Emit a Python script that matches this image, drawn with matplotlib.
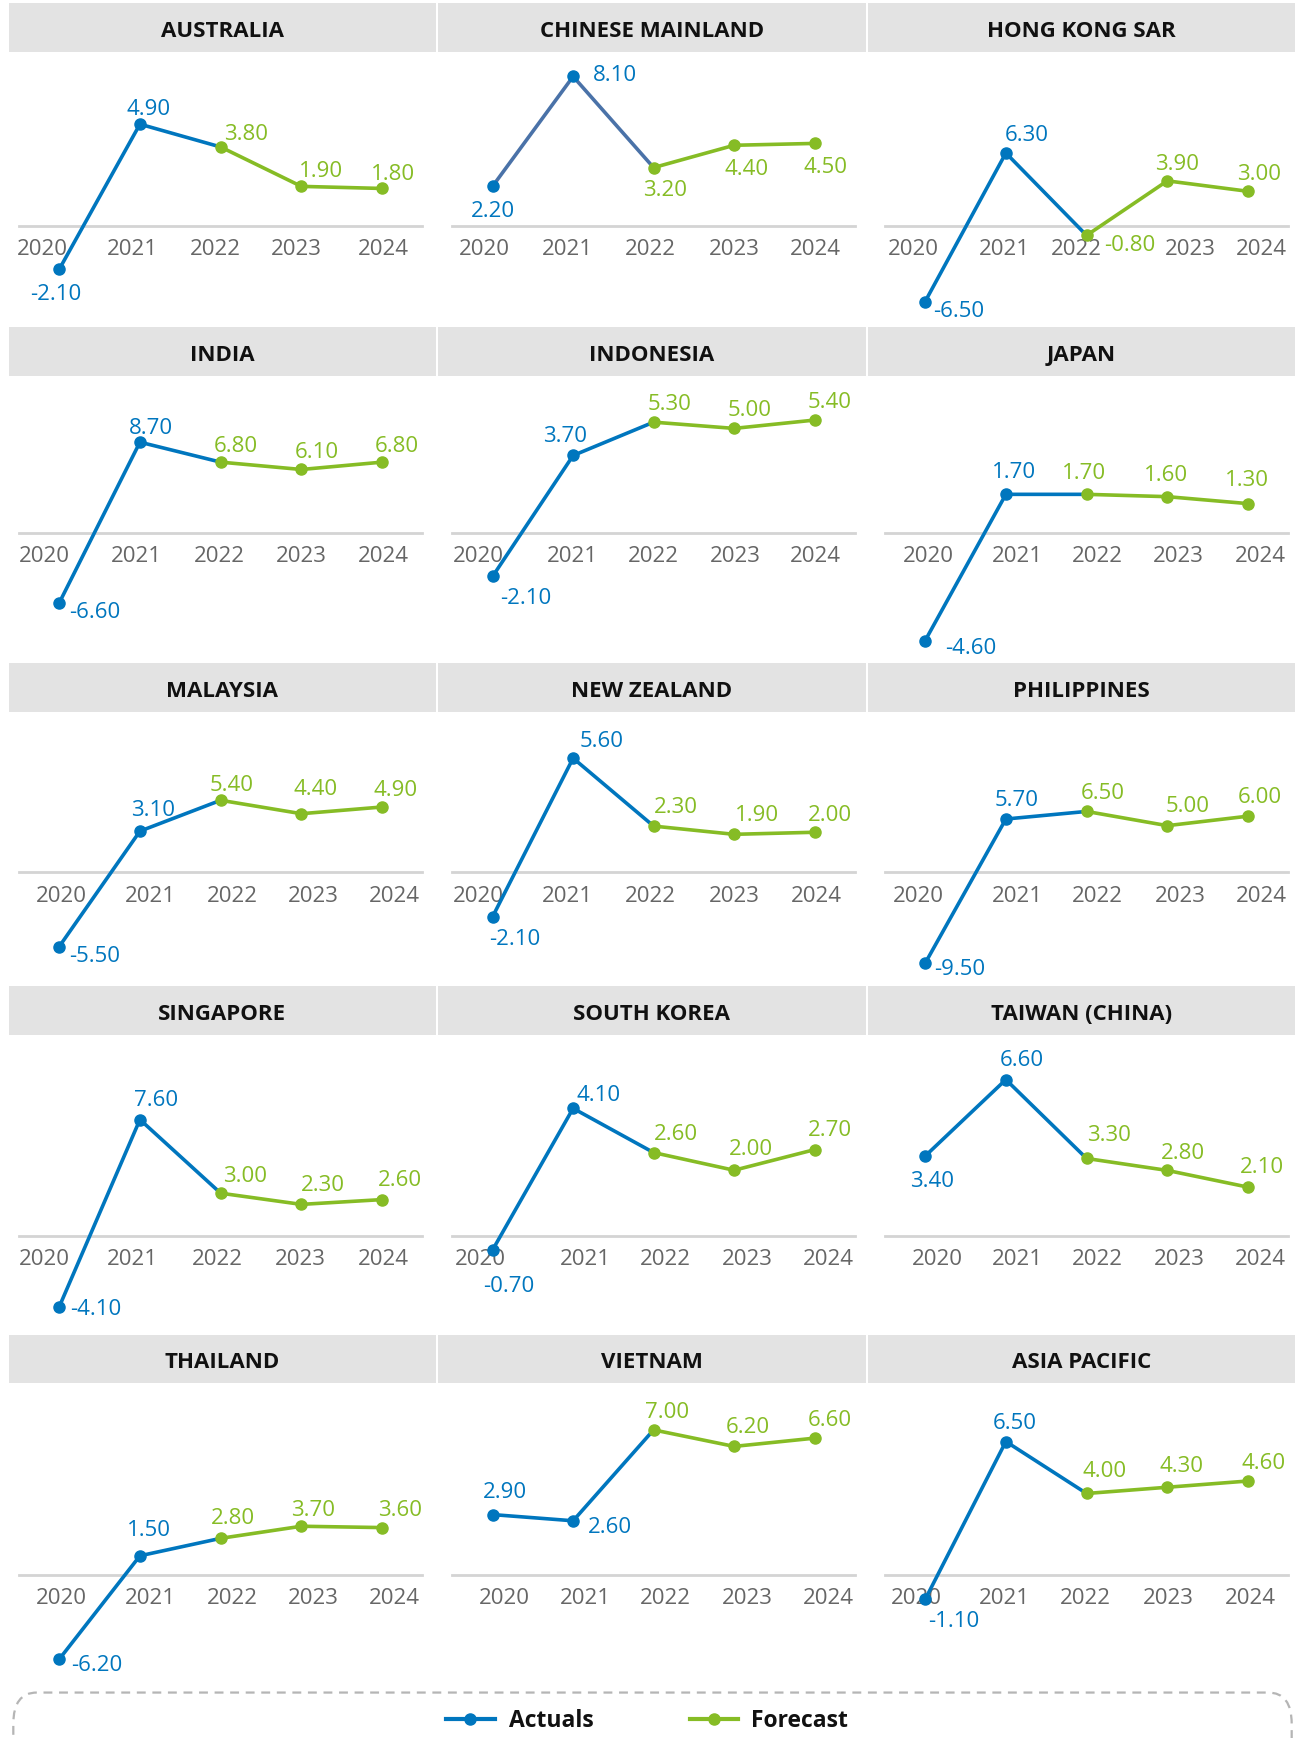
import matplotlib
matplotlib.use('Agg')
import matplotlib.pyplot as plt
from matplotlib.patches import Rectangle, FancyBboxPatch
from matplotlib.lines import Line2D
from matplotlib.transforms import ScaledTranslation

plt.rcParams['font.family'] = ['Open Sans', 'DejaVu Sans']

# data
years = ['2020', '2021', '2022', '2023', '2024']
countries = ['AUSTRALIA', 'CHINESE MAINLAND', 'HONG KONG SAR',
             'INDIA', 'INDONESIA', 'JAPAN',
             'MALAYSIA', 'NEW ZEALAND', 'PHILIPPINES',
             'SINGAPORE', 'SOUTH KOREA', 'TAIWAN (CHINA)',
             'THAILAND', 'VIETNAM', 'ASIA PACIFIC']
australia = [-2.1, 4.9, 3.8, 1.9, 1.8]
china = [2.2, 8.1, 3.2, 4.4, 4.5]
hongkong = [-6.5, 6.3, -0.8, 3.9, 3.0]
india = [-6.6, 8.7, 6.8, 6.1, 6.8]
indonesia = [-2.1, 3.7, 5.3, 5.0, 5.4]
japan = [-4.6, 1.7, 1.7, 1.6, 1.3]
malaysia = [-5.5, 3.1, 5.4, 4.4, 4.9]
newzealand = [-2.1, 5.6, 2.3, 1.9, 2.0]
philippines = [-9.5, 5.7, 6.5, 5.0, 6.0]
singapore = [-4.1, 7.6, 3.0, 2.3, 2.6]
southkorea = [-0.7, 4.1, 2.6, 2.0, 2.7]
taiwan = [3.4, 6.6, 3.3, 2.8, 2.1]
thailand = [-6.2, 1.5, 2.8, 3.7, 3.6]
vietnam = [2.9, 2.6, 7.0, 6.2, 6.6]
asiapacific = [-1.1, 6.5, 4.0, 4.3, 4.6]
series = [australia, china, hongkong, india, indonesia, japan, malaysia,
          newzealand, philippines, singapore, southkorea, taiwan,
          thailand, vietnam, asiapacific]
n_actual = 2  # 2020, 2021 are actuals

# layout (pixels on a 1177x1568 grid)
W, H = 1177.0, 1568.0
col_hdr = [(8, 393), (395, 781), (783, 1168)]
col_axis = [(17, 381), (408, 771), (798, 1162)]
row_hdr = [3, 295, 598, 890, 1204]
hdr_h = 44
row_bottom = [293, 596, 888, 1202, 1520]
row_base = [204, 481, 787, 1115, 1421]
# pixel of value zero and pixels per unit, per panel
zero_px = [203.7, 204.9, 204.0, 481.4, 480.5, 481.6, 787.4, 788.0, 787.7,
           1119.8, 1109.0, 1116.3, 1421.8, 1420.5, 1422.4]
px_unit = [18.71, 16.78, 10.47, 9.48, 18.8, 20.95, 12.11, 18.57, 8.56,
           14.44, 26.6, 21.56, 12.12, 18.64, 18.75]
# label offsets (pixels) from each marker
lab_off = [
    [(-3, 20), (8, -16), (23, -14), (18, -16), (10, -16)],
    [(0, 20), (38, -4), (10, 18), (11, 19), (10, 19)],
    [(30, 6), (19, -19), (39, 6), (9, -18), (10, -18)],
    [(32, 6), (10, -15), (14, -17), (14, -18), (13, -17)],
    [(30, 17), (-7, -20), (14, -19), (14, -19), (14, -19)],
    [(41, 4), (7, -23), (-2, -22), (-1, -22), (-1, -24)],
    [(32, 6), (12, -22), (10, -16), (13, -25), (12, -18)],
    [(20, 18), (26, -18), (20, -20), (21, -20), (14, -18)],
    [(31, 3), (10, -20), (15, -19), (18, -20), (11, -20)],
    [(33, -1), (15, -20), (22, -18), (19, -20), (16, -20)],
    [(15, 30), (23, -15), (20, -19), (15, -22), (14, -20)],
    [(6, 20), (14, -20), (20, -24), (14, -18), (13, -21)],
    [(34, 3), (8, -26), (11, -21), (11, -17), (16, -18)],
    [(11, -23), (33, 3), (12, -19), (12, -20), (14, -19)],
    [(26, 17), (8, -19), (16, -23), (13, -22), (14, -19)],
]
# horizontal shift (pixels) of each year label
tick_off = [
    [-15, -7, -5, -5, 1], [-7, -5, -3, 0, 1], [-11, -1, -9, 21, 12],
    [-13, -3, -1, 0, 1], [-13, -1, 0, 1, 1], [3, 10, 10, 10, 11],
    [2, 9, 11, 11, 11], [-13, -5, -3, 0, 2], [-6, 10, 10, 12, 12],
    [-13, -7, -3, -1, 1], [-11, 11, 11, 12, 12], [11, 10, 10, 11, 11],
    [2, 9, 11, 11, 11], [11, 11, 11, 12, 12], [-8, -1, -1, 1, 2],
]

blue = '#0076BE'
green = '#86BC25'
china_line = '#4A72A8'
grey_txt = '#666666'
px2pt = 1305 / W * 0.72
text_dy = 3  # open sans box sits a little high

fig = plt.figure(figsize=(13.05, 17.38), dpi=100)

for k, (name, vals) in enumerate(zip(countries, series)):
    r, c = divmod(k, 3)
    # header band
    x0, x1 = col_hdr[c]
    fig.add_artist(Rectangle((x0 / W, 1 - (row_hdr[r] + hdr_h) / H),
                             (x1 - x0) / W, hdr_h / H,
                             transform=fig.transFigure, color='#E3E3E3', lw=0))
    fig.text((x0 + x1) / 2 / W, 1 - (row_hdr[r] + hdr_h / 2 + 3.5) / H, name,
             ha='center', va='center', fontsize=16, fontweight='bold', color='#111111')

    top = row_hdr[r] + hdr_h
    bot = row_bottom[r]
    a0, a1 = col_axis[c]
    ax = fig.add_axes([a0 / W, 1 - bot / H, (a1 - a0) / W, (bot - top) / H])
    ax.set_xlim(-0.5, 4.5)
    ax.set_ylim(-(bot - zero_px[k]) / px_unit[k], (zero_px[k] - top) / px_unit[k])
    ax.patch.set_visible(False)
    for s in ['top', 'left', 'right']:
        ax.spines[s].set_visible(False)
    ax.spines['bottom'].set_position(('axes', (bot - row_base[r]) / (bot - top)))
    ax.spines['bottom'].set_color('#D4D4D4')
    ax.spines['bottom'].set_linewidth(2)
    ax.spines['bottom'].set_zorder(0)
    ax.set_yticks([])
    ax.set_xticks(range(len(years)))
    ax.set_xticklabels(years)
    ax.tick_params(axis='x', length=0, pad=9.5, labelsize=16, labelcolor=grey_txt)
    for lab, off in zip(ax.get_xticklabels(), tick_off[k]):
        lab.set_transform(lab.get_transform() +
                          ScaledTranslation(off * 1305 / W / 100, 0, fig.dpi_scale_trans))

    xs = list(range(len(years)))
    lc = china_line if name == 'CHINESE MAINLAND' else blue
    ax.plot(xs[:n_actual + 1], vals[:n_actual + 1], color=lc, lw=2.6, zorder=3,
            solid_capstyle='round')
    ax.plot(xs[:n_actual], vals[:n_actual], 'o', color=blue, ms=8, zorder=4)
    ax.plot(xs[n_actual:], vals[n_actual:], color=green, lw=2.6, marker='o',
            ms=8, zorder=5)
    for i, v in enumerate(vals):
        dx, dy = lab_off[k][i]
        ax.annotate(f'{v:.2f}', (i, v), xytext=(dx * px2pt, -(dy + text_dy) * px2pt),
                    textcoords='offset points', ha='center', va='center',
                    fontsize=16, color=blue if i < n_actual else green,
                    annotation_clip=False, zorder=6)

# legend box
fig.add_artist(FancyBboxPatch((12 / W, -0.02), (1165 - 12) / W, (1568 - 1527) / H + 0.02,
                              boxstyle='round,pad=0,rounding_size=0.018',
                              transform=fig.transFigure, fill=False,
                              edgecolor='#B5B5B5', lw=1.6, linestyle=(0, (4, 3))))
ly = 1 - 1551 / H
ty = 1 - 1553 / H
fig.add_artist(Line2D([402 / W, 446 / W], [ly, ly], color=blue, lw=3,
                      transform=fig.transFigure))
fig.add_artist(Line2D([424 / W], [ly], color=blue, marker='o', ms=8,
                      transform=fig.transFigure))
fig.text(459 / W, ty, 'Actuals', ha='left', va='center', fontsize=16.5,
         fontweight='bold', color='#111111')
fig.add_artist(Line2D([622 / W, 666 / W], [ly, ly], color=green, lw=3,
                      transform=fig.transFigure))
fig.add_artist(Line2D([644 / W], [ly], color=green, marker='o', ms=8,
                      transform=fig.transFigure))
fig.text(677 / W, ty, 'Forecast', ha='left', va='center', fontsize=16.5,
         fontweight='bold', color='#111111')

fig.savefig('out.png', dpi=100)
